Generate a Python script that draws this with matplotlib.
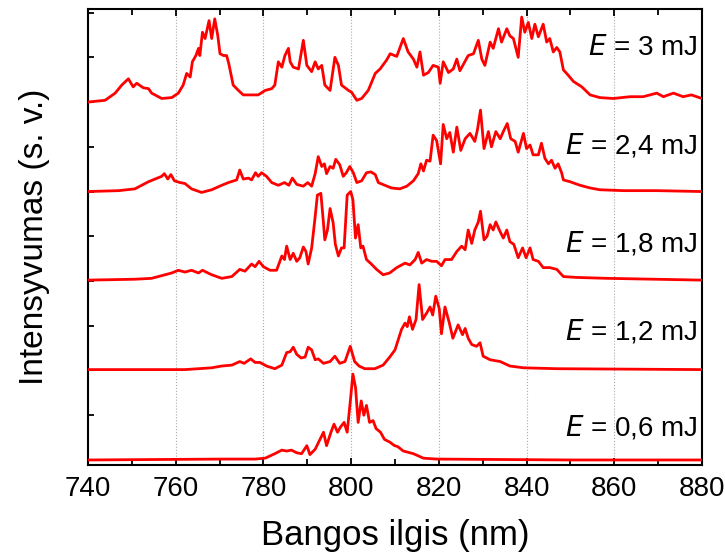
import matplotlib.pyplot as plt
import numpy as np

plt.rcParams["font.family"] = ["Liberation Sans", "DejaVu Sans"]

# Spectra at five pump energies, intensity in arbitrary units (each trace offset by 1)
energies = ["0,6", "1,2", "1,8", "2,4", "3"]

wl_06 = [740, 770.5, 778.1, 780.4, 782.6, 784.2, 785.3, 786.4, 787.6, 788.7, 789.9, 790.6,
         791.8, 792.9, 793.7, 794.4, 795.4, 796.1, 796.9, 797.6, 798.4, 799.1, 799.9, 800.4,
         801.0, 801.6, 802.3, 802.9, 803.5, 804.2, 805.0, 805.7, 806.7, 807.6, 808.8, 809.9,
         810.6, 811.9, 814.2, 816.5, 819.5, 850, 880]
int_06 = [0.0, 0.01, 0.01, 0.02, 0.07, 0.11, 0.10, 0.11, 0.08, 0.07, 0.16, 0.06,
          0.12, 0.23, 0.31, 0.16, 0.31, 0.40, 0.31, 0.37, 0.42, 0.31, 0.70, 0.96,
          0.81, 0.42, 0.66, 0.50, 0.61, 0.42, 0.44, 0.35, 0.31, 0.23, 0.20, 0.16,
          0.15, 0.10, 0.07, 0.02, 0.01, 0.0, 0.0]

wl_12 = [740, 762.1, 768.2, 770.5, 772.8, 774.6, 775.6, 777.1, 778.1, 779.2, 780.7, 782.6,
         784.2, 785.3, 786.1, 786.8, 787.6, 788.6, 789.5, 790.2, 791.0, 791.8, 792.5, 793.7,
         795.2, 796.3, 797.4, 798.6, 799.8, 800.8, 801.8, 803.1, 805.4, 807.3, 808.8, 810.0,
         811.5, 812.3, 812.8, 813.3, 814.0, 814.8, 815.5, 816.3, 817.2, 818.0, 818.6, 819.3,
         820.1, 820.6, 821.4, 822.4, 823.2, 824.4, 825.4, 826.0, 826.7, 827.5, 828.6, 829.4,
         830.1, 831.7, 834.0, 836.2, 839.3, 846.9, 880]
int_12 = [0.01, 0.01, 0.03, 0.05, 0.06, 0.10, 0.08, 0.13, 0.09, 0.09, 0.05, 0.02,
          0.06, 0.20, 0.21, 0.26, 0.18, 0.14, 0.15, 0.26, 0.23, 0.12, 0.13, 0.08,
          0.10, 0.16, 0.08, 0.10, 0.27, 0.10, 0.05, 0.02, 0.02, 0.06, 0.15, 0.23,
          0.46, 0.53, 0.49, 0.60, 0.46, 0.57, 0.96, 0.57, 0.64, 0.71, 0.62, 0.83,
          0.69, 0.41, 0.71, 0.53, 0.36, 0.51, 0.40, 0.47, 0.36, 0.29, 0.27, 0.31,
          0.16, 0.12, 0.10, 0.05, 0.03, 0.02, 0.01]

wl_18 = [740, 750.7, 754.5, 756.8, 759.1, 760.6, 762.1, 763.6, 765.2, 766.1, 768.2, 770.5,
         772.8, 774.6, 775.8, 777.3, 778.1, 779.0, 780.0, 781.5, 783.0, 784.2, 784.8, 785.3,
         786.1, 786.8, 787.6, 788.3, 789.1, 789.7, 790.2, 791.0, 791.8, 792.3, 793.1, 793.6,
         794.0, 794.6, 795.2, 795.9, 796.4, 797.1, 797.8, 798.4, 799.1, 799.9, 800.4, 801.0,
         801.6, 802.2, 802.7, 803.5, 804.6, 805.8, 807.3, 808.8, 810.4, 812.3, 813.4, 814.6,
         815.3, 816.1, 817.2, 818.4, 819.5, 820.6, 821.4, 822.9, 824.1, 825.2, 826.0, 826.7,
         827.5, 828.2, 829.0, 829.5, 830.3, 831.0, 831.7, 832.4, 833.0, 833.8, 834.7, 835.5,
         836.2, 837.1, 838.1, 839.1, 839.9, 840.8, 841.5, 842.7, 843.8, 845.3, 846.9, 848.4,
         851.4, 858.3, 880]
int_18 = [0.01, 0.02, 0.03, 0.06, 0.09, 0.12, 0.10, 0.12, 0.09, 0.12, 0.07, 0.03,
          0.05, 0.13, 0.11, 0.19, 0.16, 0.22, 0.16, 0.12, 0.12, 0.28, 0.24, 0.39,
          0.24, 0.31, 0.22, 0.26, 0.38, 0.33, 0.19, 0.37, 0.72, 0.96, 0.98, 0.70,
          0.46, 0.57, 0.81, 0.65, 0.41, 0.28, 0.37, 0.37, 0.96, 1.00, 0.91, 0.48,
          0.63, 0.37, 0.39, 0.24, 0.19, 0.13, 0.07, 0.09, 0.15, 0.20, 0.18, 0.24,
          0.32, 0.20, 0.24, 0.22, 0.22, 0.17, 0.24, 0.24, 0.33, 0.39, 0.35, 0.57,
          0.42, 0.57, 0.66, 0.78, 0.46, 0.50, 0.63, 0.57, 0.66, 0.57, 0.48, 0.57,
          0.44, 0.41, 0.26, 0.37, 0.26, 0.37, 0.24, 0.22, 0.15, 0.15, 0.13, 0.05,
          0.04, 0.03, 0.01]

wl_24 = [740, 747.0, 750.7, 753.8, 755.3, 756.8, 757.4, 758.2, 758.9, 759.7, 761.0, 762.1,
         763.6, 765.9, 768.2, 770.5, 772.0, 773.9, 774.6, 775.4, 776.6, 777.3, 778.2, 778.8,
         779.6, 780.7, 781.9, 783.4, 784.8, 785.8, 786.6, 787.6, 789.1, 790.1, 791.0, 791.8,
         792.5, 793.3, 793.9, 794.4, 795.2, 795.9, 796.5, 797.4, 798.2, 798.9, 799.7, 800.5,
         801.3, 802.4, 803.5, 804.5, 805.5, 806.2, 807.7, 809.2, 811.1, 812.7, 814.2, 815.3,
         815.9, 816.5, 817.2, 818.0, 818.7, 819.5, 820.4, 821.0, 821.8, 822.5, 823.3, 824.1,
         825.0, 826.0, 827.1, 828.2, 828.8, 829.5, 830.3, 831.3, 832.0, 833.0, 834.0, 834.7,
         835.6, 836.4, 837.4, 838.1, 839.3, 840.0, 840.8, 841.5, 842.7, 843.4, 844.2, 845.0,
         845.7, 846.5, 847.2, 848.0, 848.4, 849.9, 852.2, 854.5, 856.7, 862.1, 869.7, 880]
int_24 = [0.0, 0.01, 0.03, 0.11, 0.14, 0.17, 0.20, 0.14, 0.19, 0.12, 0.10, 0.09,
          0.03, -0.01, 0.02, 0.07, 0.10, 0.13, 0.24, 0.14, 0.15, 0.13, 0.21, 0.17,
          0.21, 0.17, 0.10, 0.07, 0.10, 0.07, 0.15, 0.08, 0.06, 0.10, 0.06, 0.20,
          0.39, 0.28, 0.31, 0.20, 0.28, 0.26, 0.36, 0.30, 0.17, 0.21, 0.28, 0.21,
          0.10, 0.12, 0.21, 0.22, 0.19, 0.10, 0.07, 0.04, 0.03, 0.06, 0.12, 0.20,
          0.31, 0.23, 0.35, 0.34, 0.63, 0.57, 0.31, 0.75, 0.59, 0.66, 0.44, 0.72,
          0.46, 0.59, 0.65, 0.56, 0.69, 0.91, 0.48, 0.67, 0.50, 0.67, 0.59, 0.67,
          0.76, 0.59, 0.56, 0.44, 0.65, 0.48, 0.52, 0.41, 0.41, 0.54, 0.37, 0.31,
          0.35, 0.26, 0.31, 0.21, 0.13, 0.11, 0.07, 0.04, 0.02, 0.01, 0.01, 0.0]

wl_30 = [740, 743.9, 746.2, 747.7, 749.2, 750.3, 751.1, 752.6, 753.8, 754.5, 756.8, 759.1,
         760.6, 761.7, 762.5, 763.3, 763.8, 764.6, 765.2, 765.5, 766.1, 766.7, 767.6, 768.2,
         768.9, 769.6, 770.1, 770.9, 771.6, 772.1, 773.1, 774.3, 775.4, 777.3, 778.8, 780.4,
         781.9, 782.6, 783.4, 784.2, 784.9, 785.7, 786.1, 786.8, 788.0, 789.1, 789.9, 791.0,
         791.8, 792.5, 793.3, 794.0, 795.2, 796.3, 797.1, 797.8, 799.4, 800.1, 801.3, 802.4,
         803.9, 805.5, 806.6, 808.1, 808.9, 810.4, 811.9, 813.0, 814.2, 815.0, 815.7, 816.5,
         817.6, 818.7, 819.9, 820.3, 821.0, 822.2, 823.3, 824.1, 824.8, 826.7, 827.9, 829.0,
         829.8, 830.5, 831.7, 832.4, 833.6, 834.3, 835.5, 836.2, 837.0, 838.1, 838.9, 839.6,
         840.4, 841.2, 841.9, 842.7, 843.8, 844.6, 845.3, 846.1, 846.9, 847.6, 848.4, 849.5,
         850.7, 852.6, 854.5, 856.7, 859.8, 863.6, 866.6, 869.7, 871.2, 873.5, 875.7, 877.6,
         880]
int_30 = [0.0, 0.02, 0.10, 0.19, 0.26, 0.17, 0.21, 0.16, 0.15, 0.10, 0.04, 0.05,
          0.10, 0.19, 0.32, 0.28, 0.45, 0.52, 0.60, 0.52, 0.78, 0.71, 0.91, 0.71,
          0.93, 0.74, 0.54, 0.52, 0.52, 0.43, 0.19, 0.13, 0.08, 0.08, 0.08, 0.13,
          0.15, 0.19, 0.45, 0.39, 0.52, 0.60, 0.45, 0.39, 0.37, 0.69, 0.41, 0.34,
          0.45, 0.37, 0.41, 0.19, 0.13, 0.50, 0.41, 0.19, 0.13, 0.11, 0.02, 0.04,
          0.13, 0.32, 0.37, 0.47, 0.54, 0.51, 0.71, 0.56, 0.48, 0.39, 0.56, 0.30,
          0.33, 0.41, 0.39, 0.21, 0.45, 0.33, 0.37, 0.48, 0.35, 0.52, 0.54, 0.69,
          0.48, 0.41, 0.67, 0.60, 0.82, 0.67, 0.82, 0.74, 0.71, 0.50, 0.95, 0.78,
          0.89, 0.71, 0.87, 0.73, 0.87, 0.67, 0.71, 0.56, 0.61, 0.56, 0.36, 0.30,
          0.23, 0.17, 0.08, 0.05, 0.04, 0.06, 0.06, 0.10, 0.06, 0.10, 0.06, 0.08,
          0.04]

spectra = [(wl_06, int_06), (wl_12, int_12), (wl_18, int_18), (wl_24, int_24), (wl_30, int_30)]
label_heights = [0.36, 0.44, 0.42, 0.51, 0.60]

fig = plt.figure(figsize=(7.25, 5.56), dpi=100)
ax = fig.add_axes([0.1214, 0.1637, 0.8468, 0.8201])

for i, (wl, inten) in enumerate(spectra):
    ax.plot(wl, np.array(inten) + i, color="#ff0000", lw=2.0,
            solid_joinstyle="round", zorder=3)
    ax.text(879, i + label_heights[i], r"$\it{E}$" + " = " + energies[i] + " mJ",
            ha="right", va="center", fontsize=20, zorder=4)

ax.set_xlim(740, 880)
ax.set_ylim(-0.056, 5.04)
ax.set_xticks(np.arange(740, 881, 20))
ax.set_xticks(np.arange(750, 880, 20), minor=True)
ax.set_yticks(np.arange(0, 5.01, 0.5))
ax.set_yticklabels([])
ax.tick_params(axis="x", which="both", direction="in", top=True, labelsize=20, pad=8, width=1.3)
ax.tick_params(axis="x", which="major", length=5)
ax.tick_params(axis="x", which="minor", length=4)
ax.tick_params(axis="y", direction="in", length=4, width=1.3)
ax.xaxis.grid(True, which="major", linestyle=":", color="#aaaaaa", lw=0.8)
for sp in ax.spines.values():
    sp.set_linewidth(1.5)

ax.set_xlabel("Bangos ilgis (nm)", fontsize=25, labelpad=12)
ax.set_ylabel("Intensyvumas (s. v.)", fontsize=24, labelpad=24)

fig.savefig("out.png", dpi=100)
